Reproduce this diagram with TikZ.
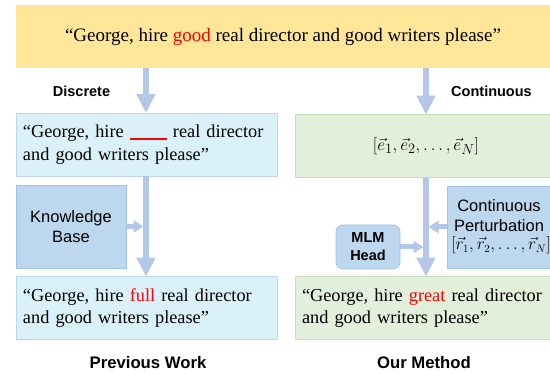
\documentclass[tikz,border=0pt]{standalone}
\usepackage{fontspec}
\setmainfont{Liberation Serif}
\setsansfont{Liberation Sans}
\usetikzlibrary{arrows.meta,calc}
\definecolor{ybox}{HTML}{FFE699}
\definecolor{bfill}{HTML}{DBF1FA}
\definecolor{bdraw}{HTML}{BDD7EE}
\definecolor{gfill}{HTML}{E2EFDA}
\definecolor{gdraw}{HTML}{C5E0B4}
\definecolor{kfill}{HTML}{BDD7EE}
\definecolor{kdraw}{HTML}{9DC3E6}
\definecolor{arr}{HTML}{B4C7E7}
\definecolor{redtxt}{HTML}{FF0000}
\tikzset{
  serifbox/.style={font=\fontsize{18.3}{22.5}\selectfont},
  textbox/.style={rectangle, draw, line width=0.8pt, minimum height=63pt, inner xsep=7pt, inner ysep=0pt,
     align=left, anchor=center, serifbox},
  bluebox/.style={textbox, fill=bfill, draw=bdraw, minimum width=261pt, text width=247pt},
  greenbox/.style={textbox, fill=gfill, draw=gdraw, minimum width=255pt, text width=241pt},
  midbox/.style={rectangle, fill=kfill, draw=kdraw, line width=0.8pt, align=center, inner sep=0pt,
     font=\sffamily\fontsize{16.5}{20}\selectfont},
  lbl/.style={font=\sffamily\bfseries\fontsize{14.5}{17}\selectfont, inner sep=0pt},
  title/.style={font=\sffamily\bfseries\fontsize{16.7}{20}\selectfont, inner sep=0pt},
  bigarrow/.style={draw=arr, line width=6pt, -{Triangle[width=18pt,length=19pt]}, shorten >=-0.5pt},
  smallarrow/.style={draw=arr, line width=5pt, -{Triangle[width=12pt,length=10pt]}},
}
\begin{document}
\begin{tikzpicture}[x=1pt,y=-1pt]
\useasboundingbox (0,0) rectangle (550,374);
% nodes
\node[rectangle, fill=ybox, minimum width=534pt, minimum height=63pt, inner sep=0pt,
      font=\fontsize{19}{23}\selectfont] (top) at (283,36.5)
  {``George, hire \textcolor{redtxt}{good} real director and good writers please''};
\node[bluebox] (lb1) at (146.5,144.5)
  {``George, hire {\color{redtxt}\rule[-2pt]{37pt}{1.2pt}} real director\\and good writers please''};
\node[greenbox, align=center] (rb1) at (422.5,146)
  {\hspace*{7pt}{\fontsize{19}{23}\selectfont$[\vec{e}_1, \vec{e}_2, \ldots, \vec{e}_N]$}};
\node[midbox, minimum width=110pt, minimum height=83pt] (kb) at (71,226.5) {Knowledge\\Base};
\node[bluebox] (lb2) at (146.5,308)
  {``George, hire \textcolor{redtxt}{full} real director\\and good writers please''};
\node[midbox, minimum width=102pt, minimum height=82pt] (cp) at (499,227)
  {Continuous\\Perturbation\\[-2pt]\hspace*{4pt}{\fontsize{16}{18}\selectfont$[\vec{r}_1, \vec{r}_2, \ldots, \vec{r}_N]$}};
\node[midbox, rounded corners=7pt, minimum width=64pt, minimum height=44pt,
      font=\sffamily\bfseries\fontsize{14.5}{18}\selectfont] (mlm) at (368,247) {MLM\\Head};
\node[greenbox] (rb2) at (422.5,308)
  {``George, hire \textcolor{redtxt}{great} real director\\and good writers please''};
\node[lbl] (disc) at (81.5,91) {Discrete};
\node[lbl] (cont) at (491.5,91) {Continuous};
\node[title] (pw) at (148,363) {Previous Work};
\node[title] (om) at (424,363) {Our Method};
% helper coordinates
\coordinate (lc) at (146,0);
\coordinate (rc) at (426,0);
\coordinate (lshaft) at (143.5,0);
\coordinate (rshaftl) at (423.5,0);
\coordinate (rshaftr) at (428.5,0);
% connectors
\draw[bigarrow] (top.south -| lc) -- (lb1.north -| lc);
\draw[bigarrow] (top.south -| rc) -- (rb1.north -| rc);
\draw[bigarrow] (lb1.south -| lc) -- (lb2.north -| lc);
\draw[bigarrow] (rb1.south -| rc) -- (rb2.north -| rc);
\draw[smallarrow] (kb.east) -- (kb.east -| lshaft);
\draw[smallarrow] (cp.west) -- (cp.west -| rshaftr);
\draw[smallarrow] (mlm.east) -- (mlm.east -| rshaftl);
\end{tikzpicture}
\end{document}
